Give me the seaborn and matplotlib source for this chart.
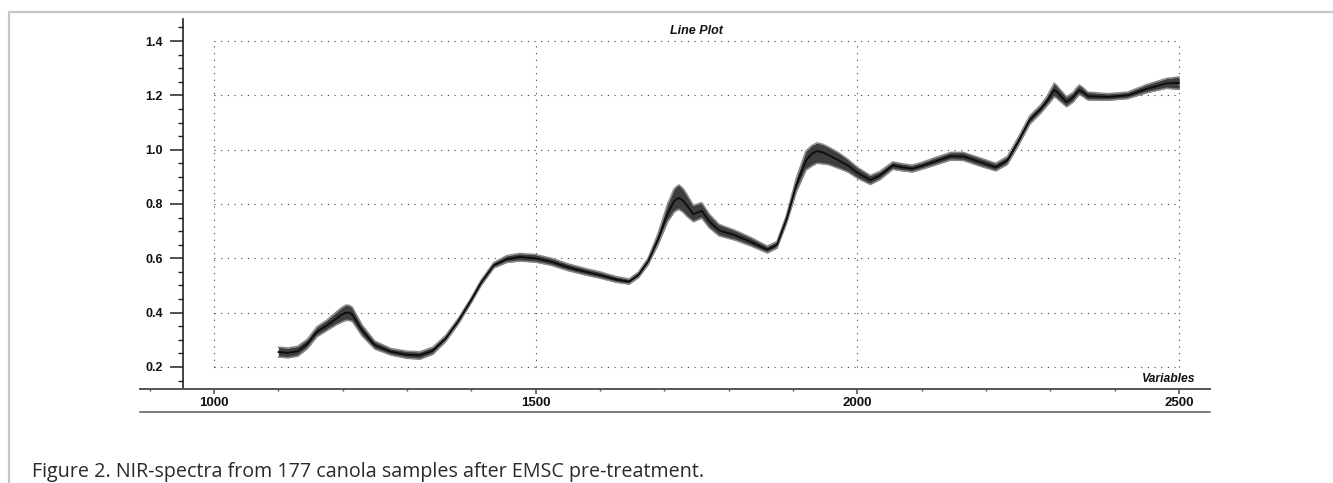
import numpy as np
import pandas as pd
import matplotlib
matplotlib.use("Agg")
import matplotlib.pyplot as plt
from matplotlib.lines import Line2D
from matplotlib.ticker import MultipleLocator
import seaborn as sns

# NIR spectra of canola samples after EMSC: band of 177 spectra summarised
# by its upper edge, centre and lower edge at each wavelength.
wavelength_nm = [
    1100, 1115, 1130, 1145, 1160, 1175, 1190, 1198, 1205, 1210, 1215, 1230, 1250, 1275,
    1300, 1320, 1340, 1360, 1380, 1400, 1415, 1435, 1455, 1475, 1500, 1525,
    1550, 1575, 1600, 1625, 1645, 1660, 1675, 1690, 1705, 1715, 1719, 1723, 1729, 1735,
    1745, 1758, 1770, 1785, 1810, 1835, 1860, 1875, 1890, 1905, 1920, 1929, 1937, 1946,
    1955, 1970, 1985, 2000, 2020, 2035, 2055, 2070, 2085, 2100, 2120, 2145,
    2165, 2190, 2215, 2233, 2250, 2268, 2285, 2295, 2301, 2306, 2310, 2315, 2325, 2335, 2340,
    2345, 2351, 2358, 2390, 2420, 2450, 2480, 2500,
]

spectrum_centre = [
    0.255, 0.252, 0.258, 0.285, 0.330, 0.352, 0.378, 0.392, 0.400, 0.400, 0.393, 0.335, 0.280, 0.256,
    0.245, 0.243, 0.260, 0.305, 0.370, 0.447, 0.510, 0.575, 0.597, 0.605, 0.600, 0.587,
    0.567, 0.552, 0.538, 0.522, 0.514, 0.540, 0.590, 0.670, 0.765, 0.810, 0.818, 0.822, 0.812, 0.795,
    0.762, 0.775, 0.735, 0.703, 0.685, 0.660, 0.632, 0.650, 0.745, 0.870, 0.960, 0.985, 0.995, 0.990,
    0.980, 0.962, 0.942, 0.915, 0.888, 0.905, 0.942, 0.935, 0.930, 0.940, 0.956, 0.976,
    0.975, 0.955, 0.935, 0.960, 1.030, 1.110, 1.150, 1.180, 1.202, 1.220, 1.213, 1.200, 1.175, 1.192, 1.208,
    1.220, 1.211, 1.197, 1.194, 1.200, 1.224, 1.244, 1.246,
]

spectrum_upper = [
    0.273, 0.270, 0.276, 0.302, 0.348, 0.372, 0.402, 0.418, 0.428, 0.427, 0.420, 0.355, 0.295, 0.268,
    0.258, 0.256, 0.273, 0.316, 0.380, 0.456, 0.519, 0.585, 0.610, 0.618, 0.614, 0.600,
    0.580, 0.564, 0.550, 0.533, 0.524, 0.550, 0.602, 0.690, 0.800, 0.855, 0.865, 0.870, 0.857, 0.835,
    0.795, 0.805, 0.762, 0.725, 0.703, 0.676, 0.645, 0.662, 0.760, 0.895, 0.995, 1.015, 1.025, 1.020,
    1.010, 0.990, 0.965, 0.935, 0.905, 0.920, 0.955, 0.948, 0.943, 0.953, 0.970, 0.990,
    0.990, 0.970, 0.950, 0.975, 1.045, 1.125, 1.165, 1.198, 1.224, 1.245, 1.236, 1.222, 1.195, 1.210, 1.226,
    1.238, 1.228, 1.212, 1.206, 1.212, 1.240, 1.262, 1.268,
]

spectrum_lower = [
    0.237, 0.234, 0.240, 0.268, 0.312, 0.334, 0.356, 0.365, 0.372, 0.371, 0.368, 0.315, 0.266, 0.244,
    0.232, 0.229, 0.247, 0.294, 0.360, 0.438, 0.500, 0.565, 0.585, 0.590, 0.586, 0.574,
    0.555, 0.540, 0.527, 0.512, 0.505, 0.530, 0.578, 0.650, 0.735, 0.770, 0.777, 0.780, 0.770, 0.755,
    0.735, 0.748, 0.712, 0.683, 0.667, 0.645, 0.620, 0.638, 0.730, 0.845, 0.925, 0.940, 0.950, 0.948,
    0.945, 0.932, 0.918, 0.895, 0.872, 0.890, 0.928, 0.922, 0.918, 0.928, 0.943, 0.962,
    0.960, 0.940, 0.922, 0.946, 1.015, 1.095, 1.135, 1.163, 1.180, 1.195, 1.189, 1.178, 1.158, 1.175, 1.190,
    1.203, 1.195, 1.183, 1.182, 1.188, 1.210, 1.226, 1.222,
]

y_ticks = [0.2, 0.4, 0.6, 0.8, 1.0, 1.2, 1.4]
x_ticks = [1000, 1500, 2000, 2500]

title_text = "Line Plot"
xlabel_text = "Variables"
caption_text = "Figure 2. NIR-spectra from 177 canola samples after EMSC pre-treatment."

sns.set_theme(style="white")
plt.rcParams["font.family"] = ["Liberation Sans", "DejaVu Sans"]

W, H = 1333, 483
fig = plt.figure(figsize=(W / 100, H / 100), dpi=100)
fig.patch.set_facecolor("white")

# page frame (top and left rules)
fig.add_artist(Line2D([9 / W, 1.0], [1 - 12 / H] * 2, color="#c6c6c6", lw=1.6))
fig.add_artist(Line2D([9 / W] * 2, [1 - 12 / H, 0.0], color="#c6c6c6", lw=1.6))

ax = fig.add_axes([140 / W, 1 - 389 / H, (1210 - 140) / W, (389 - 19) / H])
ax.set_facecolor("white")
ax.set_xlim(885, 2548)
ax.set_ylim(0.119, 1.481)

# dotted grid confined to the tick range
grid_kw = dict(color="#3c3c3c", lw=0.8, ls=(0, (1, 5)), zorder=1)
ax.hlines(y_ticks, x_ticks[0], x_ticks[-1], **grid_kw)
ax.vlines(x_ticks, y_ticks[0], y_ticks[-1], **grid_kw)

# spectral band
ax.fill_between(wavelength_nm, spectrum_lower, spectrum_upper,
                color="#3e3e3e", lw=0, zorder=2)

long_df = pd.concat([
    pd.DataFrame({"wavelength": wavelength_nm, "value": spectrum_upper, "trace": "upper"}),
    pd.DataFrame({"wavelength": wavelength_nm, "value": spectrum_lower, "trace": "lower"}),
    pd.DataFrame({"wavelength": wavelength_nm, "value": spectrum_centre, "trace": "centre"}),
])
sns.lineplot(data=long_df, x="wavelength", y="value", hue="trace", units="trace",
             estimator=None, sort=False, legend=False, ax=ax, zorder=3,
             palette={"upper": "#8a8a8a", "lower": "#8a8a8a", "centre": "#0e0e0e"},
             size="trace", sizes={"upper": 1.1, "lower": 1.1, "centre": 1.4},
             solid_joinstyle="round", solid_capstyle="round")

# axes styling
for side in ("top", "right"):
    ax.spines[side].set_visible(False)
ax.spines["left"].set_position(("data", 951.8))
ax.spines["left"].set_color("#222222")
ax.spines["left"].set_linewidth(1.2)
ax.spines["bottom"].set_color("#555555")
ax.spines["bottom"].set_linewidth(1.4)

ax.set_yticks(y_ticks)
ax.set_yticklabels([f"{v:.1f}" for v in y_ticks])
ax.yaxis.set_minor_locator(MultipleLocator(0.05))
ax.set_xticks(x_ticks)
ax.set_xticklabels([str(v) for v in x_ticks])
ax.xaxis.set_minor_locator(MultipleLocator(100))

ax.tick_params(axis="y", which="major", direction="out", length=9.4, width=1.1,
               color="#222222", pad=5, labelsize=9, left=True)
ax.tick_params(axis="y", which="minor", direction="out", length=3.6, width=1.0,
               color="#222222", left=True)
ax.tick_params(axis="x", which="major", direction="out", length=3.6, width=1.2,
               color="#555555", pad=2.5, labelsize=9.5, bottom=True)
ax.tick_params(axis="x", which="minor", direction="out", length=1.6, width=1.0,
               color="#555555", bottom=True)
for lab in ax.get_xticklabels() + ax.get_yticklabels():
    lab.set_fontweight("bold")
    lab.set_color("#111111")
ax.set_xlabel("")
ax.set_ylabel("")

ax.text(1750, 1.437, title_text, ha="center", va="center", fontsize=9,
        fontweight="bold", fontstyle="italic", color="#111111")
ax.text(2526, 0.156, xlabel_text, ha="right", va="center", fontsize=8.7,
        fontweight="bold", fontstyle="italic", color="#111111")

# rule under the x tick labels
fig.add_artist(Line2D([140 / W, 1210 / W], [1 - 412 / H] * 2, color="#7a7a7a", lw=1.4))

fig.text(32 / W, 1 - 472 / H, caption_text, ha="left", va="center",
         fontsize=14.2, color="#2a2a2a", family=["Open Sans", "DejaVu Sans"])

fig.savefig("out.png", dpi=100, facecolor="white")
